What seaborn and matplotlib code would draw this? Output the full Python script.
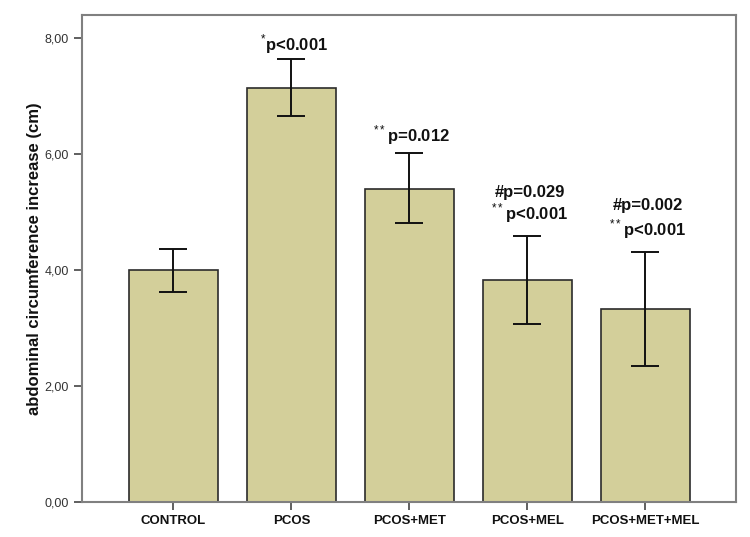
import numpy as np
import pandas as pd
import matplotlib
matplotlib.use("Agg")
import matplotlib.pyplot as plt
import seaborn as sns

categories = ["CONTROL", "PCOS", "PCOS+MET", "PCOS+MEL", "PCOS+MET+MEL"]
means = [4.00, 7.14, 5.40, 3.83, 3.33]
err_low = [3.62, 6.66, 4.81, 3.07, 2.34]
err_high = [4.36, 7.64, 6.02, 4.59, 4.31]
y_ticks = [0, 2, 4, 6, 8]
y_tick_labels = ["0,00", "2,00", "4,00", "6,00", "8,00"]
annot_lines = [
    [],
    [(r"$^{*}$p<0.001", 7.90)],
    [(r"$^{**}$p=0.012", 6.33)],
    [("#p=0.029", 5.33), (r"$^{**}$p<0.001", 4.98)],
    [("#p=0.002", 5.12), (r"$^{**}$p<0.001", 4.71)],
]

sns.set_style("white")
plt.rcParams["font.family"] = ["Liberation Sans", "DejaVu Sans"]
plt.rcParams["mathtext.fontset"] = "custom"
plt.rcParams["mathtext.rm"] = "Liberation Sans"

df = pd.DataFrame({"group": categories, "value": means})

fig = plt.figure(figsize=(7.5, 5.37), dpi=100)
ax = fig.add_axes([82 / 750, 35 / 537, 654 / 750, 487 / 537])

sns.barplot(data=df, x="group", y="value", color="#d3cf9a", saturation=1,
            edgecolor="#2b2b2b", linewidth=1.2, width=0.754, errorbar=None, ax=ax)

m = np.array(means)
yerr = [m - np.array(err_low), np.array(err_high) - m]
ax.errorbar(np.arange(len(categories)), m, yerr=yerr, fmt="none",
            ecolor="#111111", elinewidth=1.4, capsize=10.4, capthick=1.4)

for i, lines in enumerate(annot_lines):
    for txt, yv in lines:
        ax.text(i + 0.02, yv, txt, ha="center", va="center", fontsize=12,
                fontweight="bold", color="#111111")

ax.set_xlim(-0.775, 4.77)
ax.set_ylim(0, 8.397)
ax.set_yticks(y_ticks)
ax.set_yticklabels(y_tick_labels, fontsize=9, color="#333333")
ax.set_xticks(range(len(categories)))
ax.set_xticklabels(categories, fontsize=9.5, fontweight="bold", color="#111111")
ax.set_xlabel("")
ax.set_ylabel("abdominal circumference increase (cm)", fontsize=12,
              fontweight="bold", color="#111111", labelpad=2)
ax.tick_params(axis="both", direction="out", length=6, width=1.2, color="#444444",
               left=True, bottom=True)
for s in ax.spines.values():
    s.set_color("#808080")
    s.set_linewidth(1.5)

fig.savefig("out.png", dpi=100)
